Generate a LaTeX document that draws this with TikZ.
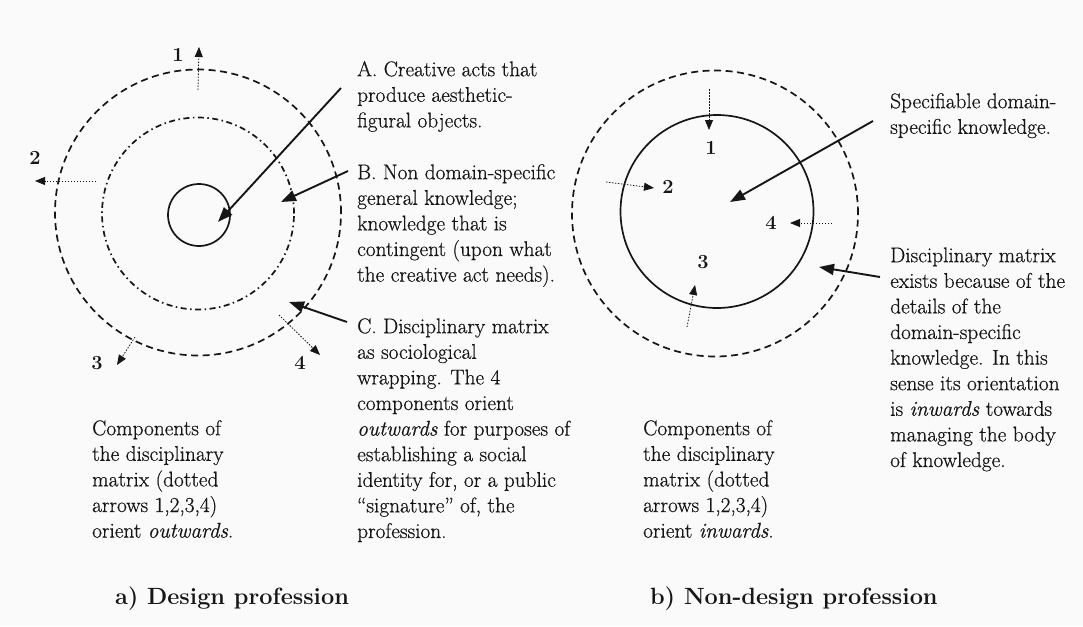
\documentclass[tikz,border=0pt]{standalone}
\usepackage{fontspec}
\newfontfamily\bodyfont{Latin Modern Roman}[FakeBold=0.6]
\usetikzlibrary{arrows.meta}
\definecolor{ink}{RGB}{22,22,22}
\definecolor{paper}{RGB}{250,250,250}
\newcommand{\fstrut}{\rule{0pt}{17pt}}
\begin{document}
\begin{tikzpicture}[x=1pt,y=-1pt,
  txt/.style={anchor=north west, inner sep=0pt, align=left, text=ink, font=\bodyfont\fontsize{21.3}{25.6}\selectfont},
  num/.style={inner sep=0pt, text=ink, font=\fontsize{20}{20}\selectfont\bfseries},
  ttl/.style={anchor=base west, inner sep=0pt, text=ink, font=\fontsize{23.5}{23.5}\selectfont\bfseries},
  ring/.style={circle, draw=ink, inner sep=0pt, outer sep=0pt, line width=1.7pt},
  dashring/.style={ring, dash pattern=on 7pt off 4.5pt},
  dotdashring/.style={ring, dash pattern=on 6pt off 3.5pt on 1.5pt off 3.5pt},
  pointer/.style={draw=ink, line width=1.9pt, -{Triangle[length=15pt,width=11pt]}},
  dotarrow/.style={draw=ink, line width=0.8pt, dash pattern=on 1.5pt off 1.5pt, -{Triangle[length=10pt,width=8pt]}},
]
\fill[paper] (0,0) rectangle (1083,626);
\useasboundingbox (0,0) rectangle (1083,626);

% ---------- a) Design profession ----------
\node[dashring, minimum size=286pt] (outerL) at (198,212.5) {};
\node[dotdashring, minimum size=192pt] (midL) at (198,213.5) {};
\node[ring, minimum size=62pt] (coreL) at (199,215) {};

\coordinate (o1s) at (198,90);  \coordinate (o1t) at (199,47);
\coordinate (o2s) at (96,181);  \coordinate (o2t) at (35,181);
\coordinate (o3s) at (135,337); \coordinate (o3t) at (117,365);
\coordinate (o4s) at (279,315); \coordinate (o4t) at (320,355);
\draw[dotarrow] (o1s) -- (o1t);
\draw[dotarrow] (o2s) -- (o2t);
\draw[dotarrow] (o3s) -- (o3t);
\draw[dotarrow] (o4s) -- (o4t);
\node[num] (n1L) at (178,55) {1};
\node[num] (n2L) at (35,158) {2};
\node[num] (n3L) at (97,363) {3};
\node[num] (n4L) at (300,363) {4};

\coordinate (pAs) at (341,88);  \coordinate (pAt) at (218,222);
\coordinate (pBs) at (348,171); \coordinate (pBt) at (281,202);
\coordinate (pCs) at (347,322); \coordinate (pCt) at (289,302);
\draw[pointer] (pAs) -- (pAt);
\draw[pointer] (pBs) -- (pBt);
\draw[pointer] (pCs) -- (pCt);

\node[txt] (tA) at (357,59) {\fstrut A. Creative acts that\\produce aesthetic-\\figural objects.};
\node[txt] (tB) at (357,162) {\fstrut B. Non domain-specific\\general knowledge;\\knowledge that is\\contingent (upon what\\the creative act needs).};
\node[txt] (tC) at (357,316) {\fstrut C. Disciplinary matrix\\as sociological\\wrapping.  The 4\\components orient\\\textit{outwards} for purposes of\\establishing a social\\identity for, or a public\\“signature” of, the\\profession.};
\node[txt] (tL) at (92,418) {\fstrut Components of\\the disciplinary\\matrix (dotted\\arrows 1,2,3,4)\\orient \textit{outwards}.};
\node[ttl] (ttlA) at (115,604) {a) Design profession};

% ---------- b) Non-design profession ----------
\node[dashring, minimum size=286pt] (outerR) at (715,213.5) {};
\node[ring, minimum size=193pt] (coreR) at (717,211.5) {};

\coordinate (i1s) at (709,89);  \coordinate (i1t) at (709,130);
\coordinate (i2s) at (606,182); \coordinate (i2t) at (654,188);
\coordinate (i3s) at (687,327); \coordinate (i3t) at (695,285);
\coordinate (i4s) at (832,223); \coordinate (i4t) at (790,223);
\draw[dotarrow] (i1s) -- (i1t);
\draw[dotarrow] (i2s) -- (i2t);
\draw[dotarrow] (i3s) -- (i3t);
\draw[dotarrow] (i4s) -- (i4t);
\node[num] (n1R) at (711,148) {1};
\node[num] (n2R) at (668,187) {2};
\node[num] (n3R) at (703,262) {3};
\node[num] (n4R) at (771,223) {4};

\coordinate (pSs) at (873,121); \coordinate (pSt) at (730,202);
\coordinate (pDs) at (880,277); \coordinate (pDt) at (819,267);
\draw[pointer] (pSs) -- (pSt);
\draw[pointer] (pDs) -- (pDt);

\node[txt] (tS) at (890,91) {\fstrut Specifiable domain-\\specific knowledge.};
\node[txt] (tD) at (890,245) {\fstrut Disciplinary matrix\\exists because of the\\details of the\\domain-specific\\knowledge.  In this\\sense its orientation\\is \textit{inwards} towards\\managing the body\\of knowledge.};
\node[txt] (tR) at (643,418) {\fstrut Components of\\the disciplinary\\matrix (dotted\\arrows 1,2,3,4)\\orient \textit{inwards}.};
\node[ttl] (ttlB) at (650,604) {b) Non-design profession};
\end{tikzpicture}
\end{document}
